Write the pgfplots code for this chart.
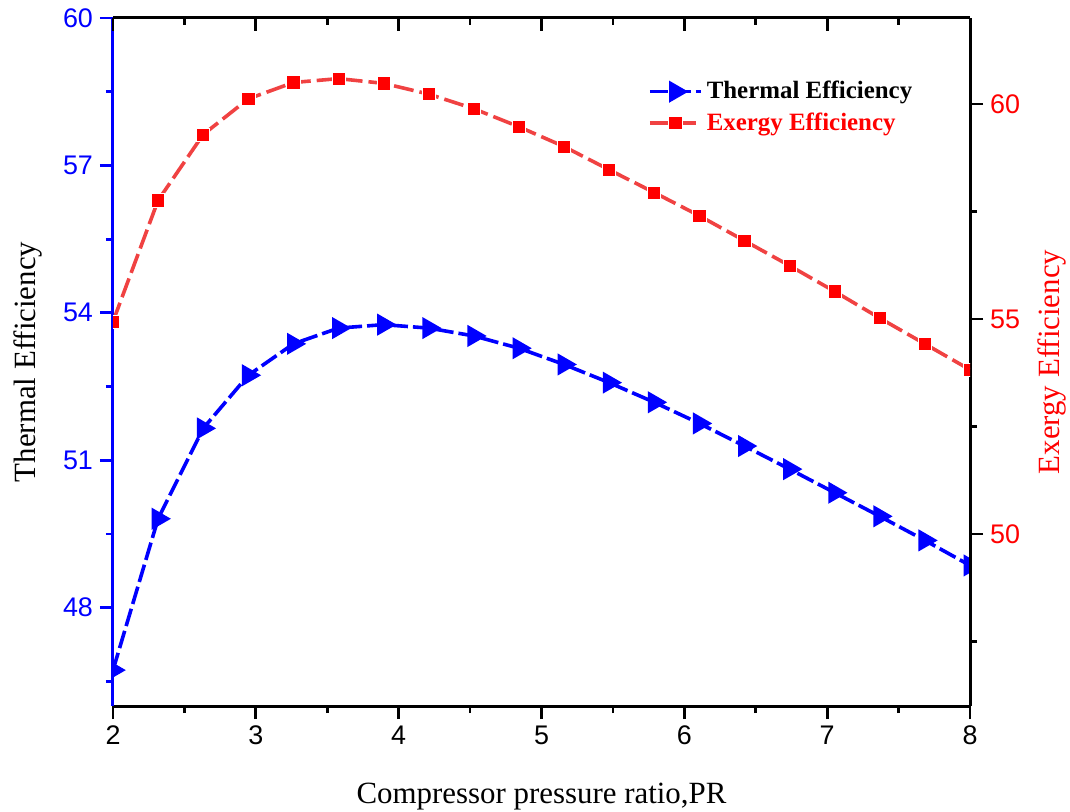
\documentclass[border=0pt]{standalone}
\usepackage{fontspec}
\setmainfont{Liberation Serif}
\newfontfamily\arialfont{Liberation Sans}
\usepackage{pgfplots}
\pgfplotsset{compat=1.18}

\definecolor{lineRed}{RGB}{240,66,66}
\definecolor{markRed}{RGB}{255,0,0}
\definecolor{pureBlue}{RGB}{0,0,255}

\pgfplotsset{
  base/.style={
    scale only axis, width=428.5bp, height=344bp,
    at={(0,0)}, anchor=south west,
    xmin=2, xmax=8,
    axis line style={line width=1.5bp},
    every tick/.style={line width=1.4bp, black},
    major tick length=6.5bp, minor tick length=3.5bp,
    /pgf/number format/assume math mode=true,
    tick label style={font=\arialfont\fontsize{13.5}{15}\selectfont},
    label style={font=\fontsize{15.5}{18}\selectfont},
    clip marker paths=true,
  },
}

\begin{document}
\begin{tikzpicture}
\useasboundingbox (-56.5bp,-53bp) rectangle (478.5bp,353bp);

% left axis: thermal efficiency
\begin{axis}[base,
  axis x line*=bottom, axis y line*=left, tick align=outside,
  ymin=46, ymax=60,
  ytick={48,51,54,57,60}, minor ytick={46.5,49.5,52.5,55.5,58.5},
  xtick={2,3,4,5,6,7,8}, minor xtick={2.5,3.5,4.5,5.5,6.5,7.5},
  y axis line style={pureBlue},
  every y tick/.append style={pureBlue},
  yticklabel style={pureBlue},
  xlabel={Compressor pressure ratio,PR},
  ylabel={Thermal Efficiency},
  xlabel style={at={(axis description cs:0.5,-0.131)}, anchor=center},
  ylabel style={at={(axis description cs:-0.099,0.5)}, anchor=center},
]
\addplot[pureBlue, line width=1.8bp, dash pattern=on 9bp off 2.5bp,
  mark=triangle*, mark size=4.6bp,
  mark options={solid, rotate=-90, fill=pureBlue}] coordinates {
  (2.0000,46.73) (2.3158,49.81) (2.6316,51.65) (2.9474,52.73)
  (3.2632,53.37) (3.5789,53.69) (3.8947,53.76) (4.2105,53.69)
  (4.5263,53.53) (4.8421,53.28) (5.1579,52.95) (5.4737,52.58)
  (5.7895,52.18) (6.1053,51.75) (6.4211,51.29) (6.7368,50.82)
  (7.0526,50.34) (7.3684,49.86) (7.6842,49.37) (8.0000,48.86)
};
\end{axis}

% top axis: inward ticks only
\begin{axis}[base,
  axis x line*=top, axis y line=none, tick align=inside,
  ymin=0, ymax=1,
  xtick={2,3,4,5,6,7,8}, minor xtick={2.5,3.5,4.5,5.5,6.5,7.5},
  xticklabels={},
]
\end{axis}

% right axis: exergy efficiency
\begin{axis}[base,
  axis x line=none, axis y line*=right, tick align=outside,
  ymin=46, ymax=62,
  ytick={50,55,60}, minor ytick={47.5,52.5,57.5},
  yticklabel style={markRed},
  ylabel={Exergy Efficiency},
  ylabel style={at={(axis description cs:1.096,0.5)}, anchor=center, markRed},
  legend style={at={(0.617,0.92)}, anchor=north west, draw=none, fill=none,
    font=\bfseries\fontsize{12.5}{15}\selectfont, row sep=1.5bp},
  legend cell align=left,
  legend image code/.code={
    \draw[mark repeat=2, mark phase=2, #1]
      plot coordinates {(0cm,0cm) (0.45cm,0cm) (0.9cm,0cm)};
  },
]
\addlegendimage{pureBlue, line width=1.8bp, dash pattern=on 9bp off 2.5bp,
  mark=triangle*, mark size=4.6bp,
  mark options={solid, rotate=-90, fill=pureBlue}}
\addlegendentry{Thermal Efficiency}
\addplot[lineRed, line width=1.8bp, dash pattern=on 10bp off 3bp,
  mark=square*, mark size=3.3bp,
  mark options={solid, fill=markRed, draw=white, line width=0.4bp}] coordinates {
  (2.0000,54.94) (2.3158,57.76) (2.6316,59.29) (2.9474,60.12)
  (3.2632,60.50) (3.5789,60.59) (3.8947,60.48) (4.2105,60.23)
  (4.5263,59.89) (4.8421,59.47) (5.1579,59.01) (5.4737,58.47)
  (5.7895,57.94) (6.1053,57.40) (6.4211,56.82) (6.7368,56.24)
  (7.0526,55.64) (7.3684,55.02) (7.6842,54.42) (8.0000,53.82)
};
\addlegendentry{\textcolor{markRed}{Exergy Efficiency}}
\end{axis}
\end{tikzpicture}
\end{document}
